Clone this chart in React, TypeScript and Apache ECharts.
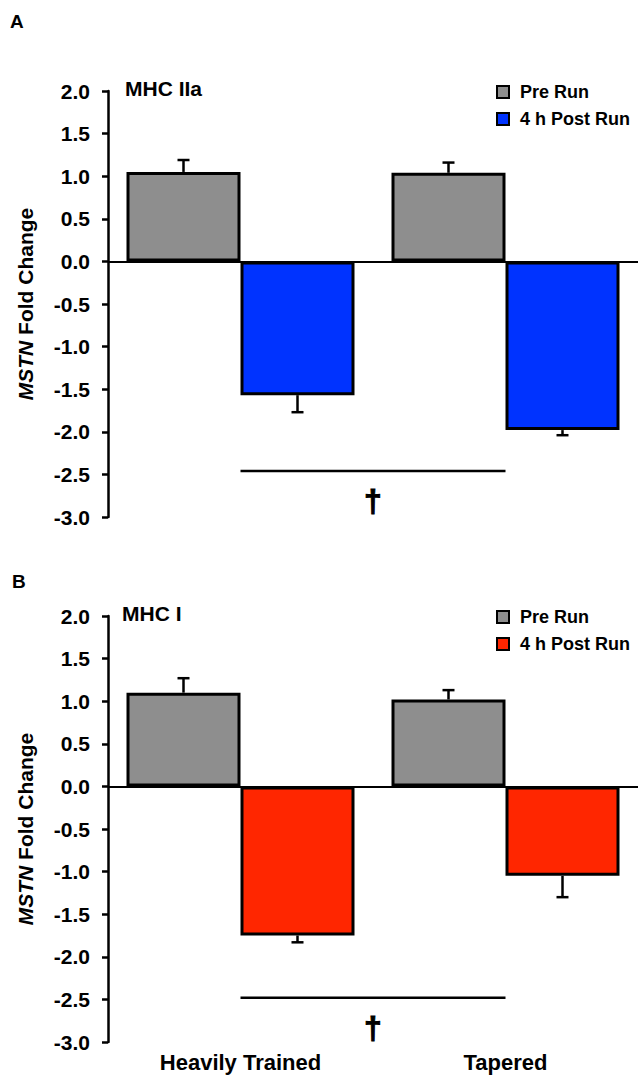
import React, { useEffect, useRef } from "react";
import * as echarts from "echarts";

const categories = ["Heavily Trained", "Tapered"];
const seriesNames = ["Pre Run", "4 h Post Run"];

const preA = [1.05, 1.04];
const preAErr = [0.14, 0.12];
const postA = [-1.57, -1.98];
const postAErr = [0.2, 0.06];

const preB = [1.1, 1.02];
const preBErr = [0.17, 0.11];
const postB = [-1.75, -1.05];
const postBErr = [0.08, 0.25];

const sigA = -2.46;
const sigB = -2.48;

const panelTitles = ["MHC IIa", "MHC I"];
const panelLetters = ["A", "B"];
const yMin = -3;
const yMax = 2;
const yInterval = 0.5;

const GRAY = "#8e8e8e";
const BLUE = "#0033ff";
const RED = "#ff2600";
const FONT = "'Liberation Sans', Arial, sans-serif";
const BAR_W = 114;

export default function App() {
  const ref = useRef<HTMLDivElement>(null);
  useEffect(() => {
    if (!ref.current) return;
    const chart = echarts.init(ref.current, null, { renderer: "svg" });

    const panels = [
      { pre: preA, preErr: preAErr, post: postA, postErr: postAErr, sig: sigA, color: BLUE, top: 91 },
      { pre: preB, preErr: preBErr, post: postB, postErr: postBErr, sig: sigB, color: RED, top: 616 },
    ];

    const grids: any[] = [];
    const xAxes: any[] = [];
    const yAxes: any[] = [];
    const series: any[] = [];
    const legends: any[] = [];
    const titles: any[] = [];

    const errSeries = (idx: number, vals: number[], errs: number[], offset: number) => ({
      type: "custom",
      xAxisIndex: idx,
      yAxisIndex: idx,
      silent: true,
      z: 1,
      data: vals.map((v, i) => [i, v, errs[i]]),
      encode: { x: 0, y: 1 },
      renderItem: (params: any, api: any) => {
        const v = api.value(1);
        const e = api.value(2);
        const sign = v >= 0 ? 1 : -1;
        const p0 = api.coord([api.value(0), v]);
        const p1 = api.coord([api.value(0), v + sign * e]);
        const x = p0[0] + offset;
        return {
          type: "group",
          children: [
            { type: "line", shape: { x1: x, y1: p0[1], x2: x, y2: p1[1] }, style: { stroke: "#000", lineWidth: 2.5 } },
            { type: "line", shape: { x1: x - 6, y1: p1[1], x2: x + 6, y2: p1[1] }, style: { stroke: "#000", lineWidth: 2.5 } },
          ],
        };
      },
    });

    panels.forEach((p, idx) => {
      grids.push({ left: 108, top: p.top, width: 534, height: 426, containLabel: false });
      xAxes.push({
        type: "category",
        gridIndex: idx,
        data: categories,
        position: "bottom",
        axisLine: { show: false },
        axisTick: { show: false },
        axisLabel: {
          show: idx === 1,
          margin: 9,
          color: "#000",
          fontFamily: FONT,
          fontWeight: "bold",
          fontSize: 22,
        },
      });
      yAxes.push({
        type: "value",
        gridIndex: idx,
        min: yMin,
        max: yMax,
        interval: yInterval,
        splitLine: { show: false },
        axisLine: { show: true, lineStyle: { color: "#000", width: 2.5 } },
        axisTick: { show: true, length: 6, lineStyle: { color: "#000", width: 2.5 } },
        axisLabel: {
          color: "#000",
          fontFamily: FONT,
          fontWeight: "bold",
          fontSize: 21,
          margin: 18,
          formatter: (v: number) => v.toFixed(1),
        },
        name: "{i|MSTN} Fold Change",
        nameLocation: "middle",
        nameGap: 72,
        nameRotate: 90,
        nameTextStyle: {
          color: "#000",
          fontFamily: FONT,
          fontWeight: "bold",
          fontSize: 21,
          rich: {
            i: { fontFamily: FONT, fontWeight: "bold", fontStyle: "italic", fontSize: 21, color: "#000" },
          },
        },
      });

      series.push({
        name: seriesNames[0],
        type: "bar",
        xAxisIndex: idx,
        yAxisIndex: idx,
        barWidth: BAR_W,
        barGap: "0%",
        data: p.pre,
        itemStyle: { color: GRAY, borderColor: "#000", borderWidth: 3 },
        z: 2,
        markLine: {
          silent: true,
          symbol: "none",
          label: { show: false },
          lineStyle: { color: "#000", width: 2, type: "solid" },
          data: [{ yAxis: 0 }],
          z: 1,
        },
      });
      series.push({
        name: seriesNames[1],
        type: "bar",
        xAxisIndex: idx,
        yAxisIndex: idx,
        barWidth: BAR_W,
        barGap: "0%",
        data: p.post,
        itemStyle: { color: p.color, borderColor: "#000", borderWidth: 3 },
        z: 2,
      });
      series.push(errSeries(idx, p.pre, p.preErr, -BAR_W / 2));
      series.push(errSeries(idx, p.post, p.postErr, BAR_W / 2));
      series.push({
        type: "custom",
        xAxisIndex: idx,
        yAxisIndex: idx,
        silent: true,
        data: [[0, 1, p.sig]],
        encode: { x: 0, y: 2 },
        renderItem: (params: any, api: any) => {
          const a = api.coord([api.value(0), api.value(2)]);
          const b = api.coord([api.value(1), api.value(2)]);
          return {
            type: "group",
            children: [
              { type: "line", shape: { x1: a[0], y1: a[1], x2: b[0], y2: b[1] }, style: { stroke: "#000", lineWidth: 2.5 } },
              {
                type: "text",
                style: {
                  x: (a[0] + b[0]) / 2,
                  y: a[1] + 30,
                  text: "\u2020",
                  fill: "#000",
                  stroke: "#000",
                  lineWidth: 1,
                  font: `bold 32px ${FONT}`,
                  align: "center",
                  verticalAlign: "middle",
                },
              },
            ],
          };
        },
      });

      legends.push({
        orient: "vertical",
        left: 491,
        top: p.top - 13,
        itemWidth: 12,
        itemHeight: 12,
        itemGap: 9,
        icon: "rect",
        selectedMode: false,
        itemStyle: { borderColor: "#000", borderWidth: 2 },
        textStyle: {
          color: "#000",
          fontFamily: FONT,
          fontWeight: "bold",
          fontSize: 18,
          lineHeight: 18,
          padding: [0, 0, 0, 6],
        },
        data: [
          { name: seriesNames[0], itemStyle: { color: GRAY } },
          { name: seriesNames[1], itemStyle: { color: p.color } },
        ],
      });

      titles.push({
        text: panelTitles[idx],
        left: idx === 0 ? 125 : 122,
        top: p.top - 13,
        padding: 0,
        textStyle: { color: "#000", fontFamily: FONT, fontWeight: "bold", fontSize: 21 },
      });
      titles.push({
        text: panelLetters[idx],
        left: idx === 0 ? 10 : 12,
        top: idx === 0 ? 12 : 572,
        padding: 0,
        textStyle: { color: "#000", fontFamily: FONT, fontWeight: "bold", fontSize: 19 },
      });
    });

    chart.setOption({
      animation: false,
      backgroundColor: "#fff",
      title: titles,
      legend: legends,
      grid: grids,
      xAxis: xAxes,
      yAxis: yAxes,
      series,
    });
    return () => chart.dispose();
  }, []);

  return (
    <div
      ref={ref}
      style={{ position: "absolute", left: 0, top: 0, width: 638, height: 1075, background: "#fff" }}
    />
  );
}
